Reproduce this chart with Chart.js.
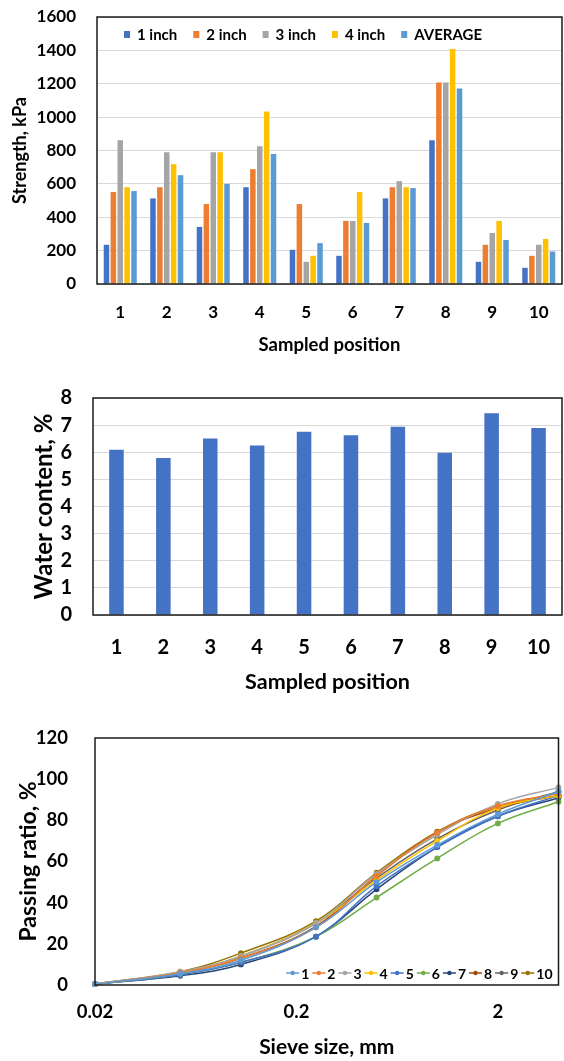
<!DOCTYPE html>
<html>
<head>
<meta charset="utf-8">
<script src="https://cdn.jsdelivr.net/npm/chart.js@4.4.1/dist/chart.umd.min.js"></script>
<style>
  body { margin: 0; background: #fff; width: 564px; height: 1061px; position: relative; overflow: hidden; }
  canvas { position: absolute; left: 0; }
</style>
</head>
<body>
<canvas id="strength" width="564" height="360" style="top:0"></canvas>
<canvas id="water" width="564" height="340" style="top:360px"></canvas>
<canvas id="sieve" width="564" height="351" style="top:710px"></canvas>
<script>
// sampled positions 1..10
const positions = ['1', '2', '3', '4', '5', '6', '7', '8', '9', '10'];

// strength, kPa
const strength1in = [235, 513, 342, 580, 205, 169, 513, 861, 133, 97];
const strength2in = [551, 580, 479, 688, 479, 378, 580, 1207, 235, 169];
const strength3in = [861, 789, 789, 825, 133, 378, 616, 1207, 306, 235];
const strength4in = [580, 718, 789, 1034, 169, 551, 580, 1408, 378, 270];
const strengthAvg = [557, 652, 600, 779, 245, 366, 575, 1171, 264, 195];
const strengthTicks = [0, 200, 400, 600, 800, 1000, 1200, 1400, 1600];

// water content, %
const waterContent = [6.09, 5.79, 6.51, 6.25, 6.76, 6.63, 6.94, 5.98, 7.44, 6.89];

// grading curves: sieve size (mm) vs passing ratio (%)
const sieveSizes = [0.02, 0.053, 0.106, 0.25, 0.5, 1, 2, 4];
const sieveTicks = [0.02, 0.2, 2];
const pass1 = [0.5, 5.5, 12, 28, 50, 68, 83, 94];
const pass2 = [0.5, 6, 13, 28, 53, 74, 87, 93];
const pass3 = [0.5, 6.5, 14, 30, 54, 73, 88, 96];
const pass4 = [0.5, 6, 14, 30, 51, 70, 86, 92];
const pass5 = [0.5, 5, 11, 23.5, 48, 67, 82, 92];
const pass6 = [0.5, 5, 11, 23.5, 42.5, 61.5, 78.5, 89];
const pass7 = [0.5, 4.5, 10, 23.5, 46.5, 67, 82, 91];
const pass8 = [0.5, 6, 13, 28.5, 53, 74, 86, 92];
const pass9 = [0.5, 6, 14, 30, 52, 71, 85, 94];
const pass10 = [0.5, 6.5, 15.5, 31, 54.5, 74.5, 87, 92];

Chart.defaults.font.family = 'Lato';
Chart.defaults.font.weight = 'bold';
Chart.defaults.color = '#000';

// y axis: fixed width, and no extra top/bottom room for the tick labels
const fixY = w => s => { s.width = w; s.paddingTop = 0; s.paddingBottom = 0; };

// black frame round the plot area, like the Excel original
const plotBox = {
  id: 'plotBox',
  afterDraw(chart) {
    const { ctx, chartArea: a } = chart;
    ctx.save();
    ctx.strokeStyle = '#1a1a1a';
    ctx.lineWidth = 1.5;
    ctx.strokeRect(a.left, a.top, a.right - a.left, a.bottom - a.top);
    ctx.restore();
  }
};

// legend drawn inside the plot area
const innerLegend = {
  id: 'innerLegend',
  afterDraw(chart, args, opts) {
    if (!opts.display) return;
    const ctx = chart.ctx;
    const a = chart.chartArea;
    ctx.save();
    ctx.font = 'bold ' + opts.size + 'px Lato';
    ctx.textBaseline = 'middle';
    const y = a.top + opts.y;
    const items = chart.data.datasets.map(ds => ({
      label: ds.label, color: ds.borderColor || ds.backgroundColor,
      w: ctx.measureText(ds.label).width
    }));
    let x;
    if (opts.kind === 'line') {
      const total = items.reduce((s, it) => s + 15 + it.w + 3, 0) - 3;
      x = a.right - opts.right - total;
      items.forEach(it => {
        ctx.strokeStyle = it.color;
        ctx.lineWidth = 1.5;
        ctx.beginPath(); ctx.moveTo(x, y); ctx.lineTo(x + 13, y); ctx.stroke();
        ctx.fillStyle = it.color;
        ctx.beginPath(); ctx.arc(x + 6.5, y, 2.2, 0, Math.PI * 2); ctx.fill();
        ctx.fillStyle = '#000';
        ctx.fillText(it.label, x + 15, y + 1);
        x += 15 + it.w + 3;
      });
    } else {
      x = a.left + opts.x;
      items.forEach(it => {
        ctx.fillStyle = it.color;
        ctx.fillRect(x, y - 3, 6, 7);
        ctx.fillStyle = '#000';
        ctx.fillText(it.label, x + 13, y + 1);
        x += 13 + it.w + 16;
      });
    }
    ctx.restore();
  }
};

new Chart(document.getElementById('strength'), {
  type: 'bar',
  data: {
    labels: positions,
    datasets: [
      { label: '1 inch', data: strength1in, backgroundColor: '#4472C4' },
      { label: '2 inch', data: strength2in, backgroundColor: '#ED7D31' },
      { label: '3 inch', data: strength3in, backgroundColor: '#A5A5A5' },
      { label: '4 inch', data: strength4in, backgroundColor: '#FFC000' },
      { label: 'AVERAGE', data: strengthAvg, backgroundColor: '#5B9BD5' }
    ]
  },
  options: {
    responsive: false,
    animation: false,
    categoryPercentage: 0.74,
    barPercentage: 0.8,
    layout: { padding: { top: 17, right: 2, left: 0, bottom: 0 } },
    plugins: {
      legend: { display: false },
      tooltip: { enabled: false },
      innerLegend: { display: true, kind: 'box', x: 27, y: 17, size: 15 }
    },
    scales: {
      x: {
        grid: { display: false },
        border: { display: false },
        ticks: { font: { size: 17 }, padding: 10 },
        title: { display: true, text: 'Sampled position', font: { size: 18.5 }, padding: { bottom: 4 } },
        afterFit: s => { s.height = 76; }
      },
      y: {
        min: 0, max: 1600,
        afterBuildTicks: s => { s.ticks = strengthTicks.map(v => ({ value: v })); },
        grid: { color: '#d9d9d9', drawTicks: false },
        border: { display: false },
        ticks: { font: { size: 17 }, padding: 21, callback: v => String(v) },
        title: { display: true, text: 'Strength, kPa', font: { size: 18 }, padding: { top: 9 } },
        afterFit: fixY(97)
      }
    }
  },
  plugins: [plotBox, innerLegend]
});

new Chart(document.getElementById('water'), {
  type: 'bar',
  data: {
    labels: positions,
    datasets: [{ label: 'Water content', data: waterContent, backgroundColor: '#4472C4' }]
  },
  options: {
    responsive: false,
    animation: false,
    categoryPercentage: 1,
    barPercentage: 0.31,
    layout: { padding: { top: 38, right: 2, left: 0, bottom: 0 } },
    plugins: { legend: { display: false }, tooltip: { enabled: false } },
    scales: {
      x: {
        grid: { display: false },
        border: { display: false },
        ticks: { font: { size: 20 }, padding: 13 },
        title: { display: true, text: 'Sampled position', font: { size: 21.5 }, padding: { bottom: 5 } },
        afterFit: s => { s.height = 85; }
      },
      y: {
        min: 0, max: 8,
        ticks: { stepSize: 1, font: { size: 20 }, padding: 21 },
        grid: { color: '#d9d9d9', drawTicks: false },
        border: { display: false },
        title: { display: true, text: 'Water content, %', font: { size: 24 }, padding: { top: 30 } },
        afterFit: fixY(93)
      }
    }
  },
  plugins: [plotBox]
});

const passSeries = [pass1, pass2, pass3, pass4, pass5, pass6, pass7, pass8, pass9, pass10];
const passColors = ['#5B9BD5', '#ED7D31', '#A5A5A5', '#FFC000', '#4472C4',
                    '#70AD47', '#264478', '#9E480E', '#636363', '#997300'];

new Chart(document.getElementById('sieve'), {
  type: 'line',
  data: {
    datasets: passSeries.map((vals, i) => ({
      label: String(i + 1),
      data: sieveSizes.map((s, j) => ({ x: s, y: vals[j] })),
      borderColor: passColors[i],
      backgroundColor: passColors[i],
      borderWidth: 1.5,
      pointRadius: 2.2,
      tension: 0.4,
      clip: 6
    }))
  },
  options: {
    responsive: false,
    animation: false,
    layout: { padding: { top: 28, right: 2, left: 0, bottom: 0 } },
    plugins: {
      legend: { display: false },
      tooltip: { enabled: false },
      innerLegend: { display: true, kind: 'line', y: 235, right: 6, size: 14 }
    },
    scales: {
      x: {
        type: 'logarithmic',
        min: 0.02, max: 4,
        afterBuildTicks: s => { s.ticks = sieveTicks.map(v => ({ value: v })); },
        grid: { display: false },
        border: { display: false },
        ticks: { font: { size: 18.5 }, padding: 8, callback: v => String(v), maxRotation: 0 },
        title: { display: true, text: 'Sieve size, mm', font: { size: 21 }, padding: { bottom: 1 } },
        afterFit: s => { s.height = 76; }
      },
      y: {
        min: 0, max: 120,
        ticks: { stepSize: 20, font: { size: 18.5 }, padding: 19 },
        grid: { display: false },
        border: { display: false },
        title: { display: true, text: 'Passing ratio, %', font: { size: 23 }, padding: { top: 15 } },
        afterFit: fixY(95)
      }
    }
  },
  plugins: [plotBox, innerLegend]
});
</script>
</body>
</html>
